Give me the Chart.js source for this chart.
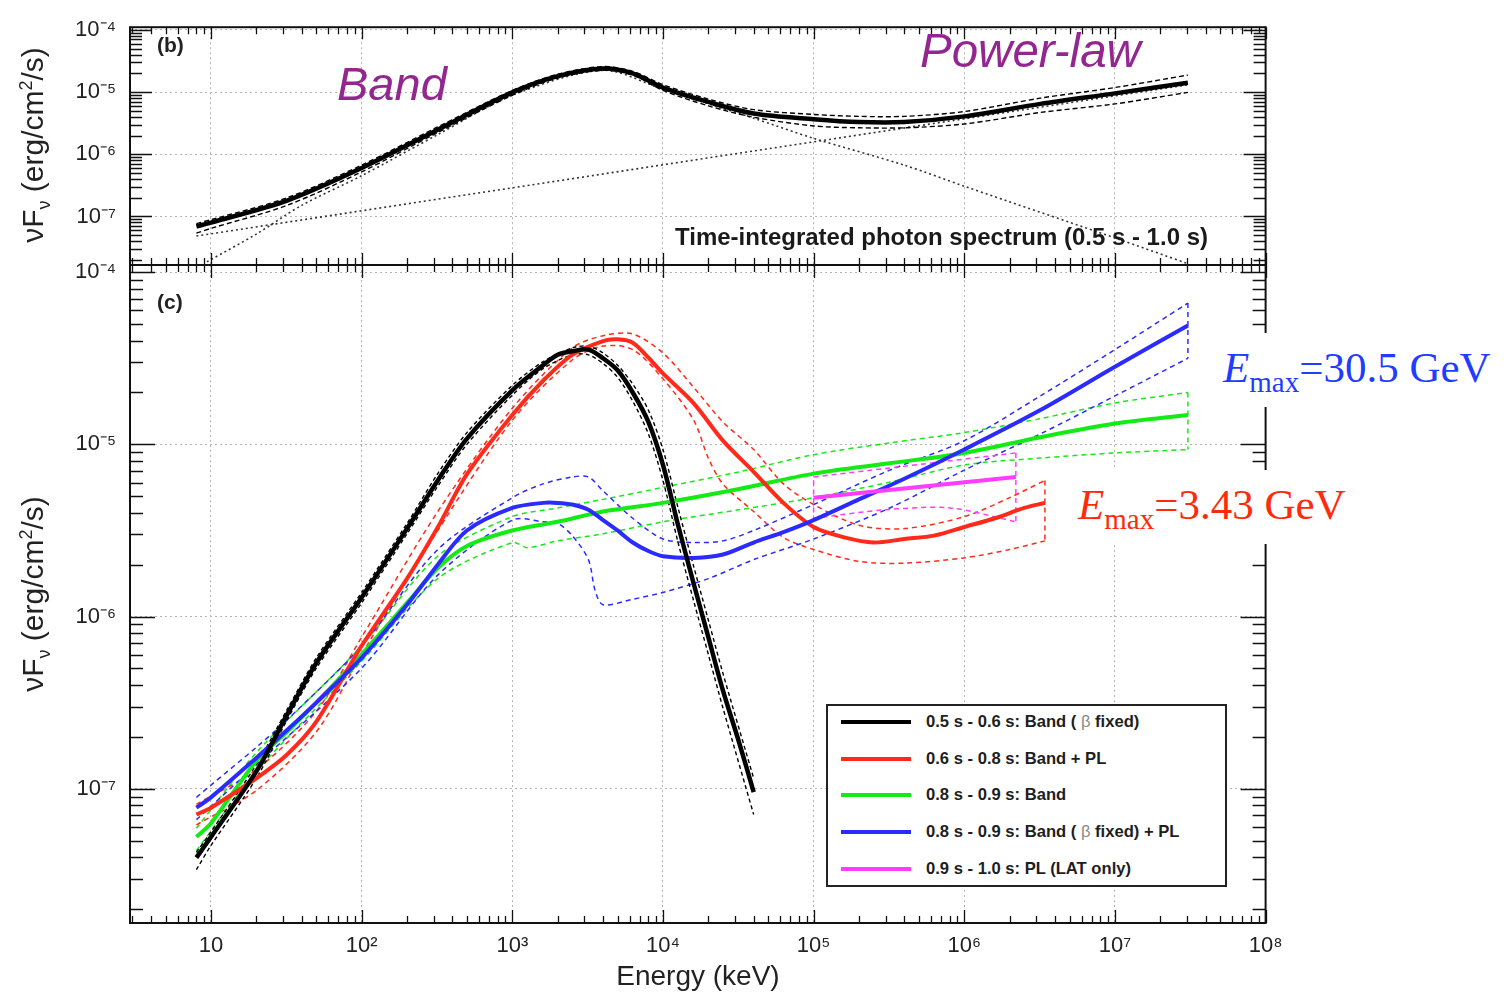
<!DOCTYPE html>
<html>
<head>
<meta charset="utf-8">
<title>Spectral evolution</title>
<script src="https://cdn.jsdelivr.net/npm/chart.js@4.4.1/dist/chart.umd.min.js"></script>
<style>
  html, body { margin: 0; padding: 0; background: #fff; }
  #fig { position: relative; width: 1504px; height: 995px; overflow: hidden;
         font-family: 'Liberation Sans', Arial, Helvetica, sans-serif; color: #222; }
  #fig canvas { position: absolute; left: 0; top: 0; }
  .txt { position: absolute; white-space: nowrap; line-height: 1; }
  .ytitle { position: absolute; white-space: nowrap; line-height: 1; font-size: 30px; color: #222;
            transform: translate(-50%, -50%) rotate(-90deg); }
  .ytitle sub, .ytitle sup { font-size: 0.6em; line-height: 0; }
  .emax { position: absolute; background: #fff; font-family: 'Liberation Serif', 'Times New Roman', serif;
          font-size: 43px; line-height: 70px; padding: 0 6px 0 3px; white-space: nowrap; }
  .emax .sub { font-size: 29px; position: relative; top: 10px; }
  #legend { position: absolute; left: 826px; top: 704px; width: 397px; height: 179px;
            border: 2px solid #222; background: #fff; }
  #legend .row { position: absolute; left: 0; height: 20px; line-height: 20px; font-weight: bold;
                 font-size: 16.6px; white-space: nowrap; }
  #legend .sw { position: absolute; left: 13px; top: 8px; width: 70px; height: 4px; }
  #legend .lab { position: absolute; left: 98px; top: 0; color: #1e1e1e; }
  #legend .beta { font-weight: normal; color: #888; }
</style>
</head>
<body>
<div id="fig">
  <canvas id="topPanel" width="1504" height="995"></canvas>
  <canvas id="bottomPanel" width="1504" height="995"></canvas>

  <div class="txt" style="left:157px; top:34px; font-size:21px; font-weight:bold;">(b)</div>
  <div class="txt" style="left:157px; top:291px; font-size:21px; font-weight:bold;">(c)</div>
  <div class="txt" style="left:337px; top:60px; font-size:47px; font-style:italic; color:#93278f;">Band</div>
  <div class="txt" style="left:920px; top:27px; font-size:47.5px; font-style:italic; color:#93278f;">Power-law</div>
  <div class="txt" style="left:675px; top:225px; font-size:24px; font-weight:bold; color:#1a1a1a;">Time-integrated photon spectrum (0.5 s - 1.0 s)</div>

  <div class="ytitle" style="left:33px; top:145px;">&nu;F<sub>&nu;</sub> (erg/cm<sup>2</sup>/s)</div>
  <div class="ytitle" style="left:33px; top:594px;">&nu;F<sub>&nu;</sub> (erg/cm<sup>2</sup>/s)</div>
  <div class="txt" style="left:698px; top:962px; font-size:28px; transform:translateX(-50%);">Energy (keV)</div>

  <div class="emax" style="left:1220px; top:333px; color:#1f3dff;"><i>E</i><span class="sub">max</span>=30.5 GeV</div>
  <div class="emax" style="left:1075px; top:470px; color:#ff2a0a;"><i>E</i><span class="sub">max</span>=3.43 GeV</div>

  <div id="legend"></div>
</div>

<script>
// axis ranges
const xMin = 2.9, xMax = 1e8;
const yMin = 1.66e-8, yMax = 1.1e-4;

// decade labels
const xTickVals = [10, 1e2, 1e3, 1e4, 1e5, 1e6, 1e7, 1e8];
const xTickText = ['10', '10²', '10³', '10⁴', '10⁵', '10⁶', '10⁷', '10⁸'];
const yTickVals = [1e-7, 1e-6, 1e-5, 1e-4];
const yTickText = ['10⁻⁷', '10⁻⁶', '10⁻⁵', '10⁻⁴'];

// ---- panel (b): time-integrated spectrum ----
const topE = [8, 10, 32, 100, 320, 1000, 2000, 4000, 6300, 1e4, 2e4, 4e4, 1e5, 2e5, 4e5, 1e6, 3.2e6, 1e7, 3.05e7];
const topTotal = [6.92e-8, 7.98e-8, 1.80e-7, 6.00e-7, 2.48e-6, 9.86e-6, 1.80e-5, 2.39e-5, 2.00e-5, 1.18e-5, 6.92e-6, 4.52e-6, 3.66e-6, 3.29e-6, 3.29e-6, 4.06e-6, 6.44e-6, 9.51e-6, 1.41e-5];
const topUpper = [7.69e-8, 8.87e-8, 2.00e-7, 6.68e-7, 2.75e-6, 1.06e-5, 1.93e-5, 2.56e-5, 2.15e-5, 1.31e-5, 7.69e-6, 5.21e-6, 4.36e-6, 4.06e-6, 4.06e-6, 4.85e-6, 7.97e-6, 1.18e-5, 1.87e-5];
const topLower = [5.40e-8, 6.44e-8, 1.51e-7, 5.21e-7, 2.23e-6, 8.87e-6, 1.68e-5, 2.23e-5, 1.87e-5, 1.06e-5, 6.00e-6, 3.93e-6, 2.85e-6, 2.66e-6, 2.66e-6, 3.06e-6, 4.69e-6, 6.44e-6, 9.86e-6];
const bandCompE = [9.4, 20, 40, 100, 320, 1000, 4000, 1e4, 4e4, 1e5, 4e5, 1e6, 1e7, 3.05e7];
const bandCompF = [1.87e-8, 5.21e-8, 1.51e-7, 4.52e-7, 2.07e-6, 8.87e-6, 2.23e-5, 1.10e-5, 3.79e-6, 1.80e-6, 6.68e-7, 3.06e-7, 4.52e-8, 1.74e-8];
const plCompE = [8, 3.05e7];
const plCompF = [4.85e-8, 1.31e-5];

// ---- panel (c): time-resolved spectra ----
const blackE = [8, 10, 20, 32, 50, 100, 200, 320, 500, 1000, 1600, 2000, 2500, 3200, 4000, 5000, 6300, 8000, 1e4, 1.26e4, 1.6e4, 2e4, 2.5e4, 3.2e4, 4e4];
const blackF = [3.98e-8, 5.25e-8, 1.26e-7, 2.69e-7, 5.37e-7, 1.29e-6, 3.24e-6, 6.17e-6, 1.08e-5, 2.06e-5, 2.88e-5, 3.31e-5, 3.47e-5, 3.55e-5, 3.16e-5, 2.69e-5, 2.00e-5, 1.35e-5, 7.59e-6, 3.39e-6, 1.55e-6, 7.59e-7, 3.72e-7, 1.86e-7, 9.55e-8];
const blackErrE = [8, 10, 20, 32, 50, 100, 200, 320, 500, 1000, 1600, 2500, 3200, 4000, 5000, 6300, 8000, 1e4, 1.26e4, 1.6e4, 2e4, 2.5e4, 4e4];
const blackHi = [4.27e-8, 5.62e-8, 1.38e-7, 2.88e-7, 5.75e-7, 1.38e-6, 3.47e-6, 6.76e-6, 1.17e-5, 2.20e-5, 3.02e-5, 3.63e-5, 3.72e-5, 3.39e-5, 2.88e-5, 2.24e-5, 1.58e-5, 9.33e-6, 4.27e-6, 1.95e-6, 9.55e-7, 4.68e-7, 1.15e-7];
const blackLo = [3.39e-8, 4.68e-8, 1.15e-7, 2.51e-7, 5.01e-7, 1.20e-6, 3.02e-6, 5.71e-6, 1.00e-5, 1.93e-5, 2.75e-5, 3.31e-5, 3.31e-5, 2.95e-5, 2.45e-5, 1.78e-5, 1.15e-5, 6.17e-6, 2.69e-6, 1.23e-6, 6.03e-7, 2.95e-7, 7.08e-8];

const redE = [8, 10, 20, 32, 50, 100, 200, 320, 500, 1000, 1600, 2500, 4000, 5000, 6300, 8000, 1e4, 1.6e4, 2.5e4, 4e4, 6.3e4, 1e5, 1.6e5, 2.5e5, 4e5, 6.3e5, 1e6, 1.6e6, 2.5e6, 3.43e6];
const redF = [7.08e-8, 7.76e-8, 1.15e-7, 1.58e-7, 2.45e-7, 6.76e-7, 1.66e-6, 3.30e-6, 6.71e-6, 1.48e-5, 2.34e-5, 3.31e-5, 3.98e-5, 4.07e-5, 3.89e-5, 3.19e-5, 2.58e-5, 1.73e-5, 1.05e-5, 6.92e-6, 4.57e-6, 3.31e-6, 2.88e-6, 2.69e-6, 2.82e-6, 2.95e-6, 3.31e-6, 3.72e-6, 4.27e-6, 4.57e-6];
const redHiE = [8, 20, 50, 100, 320, 1000, 2500, 4000, 6300, 1e4, 1.6e4, 2.5e4, 4e4, 6.3e4, 1e5, 2e5, 4e5, 1e6, 2e6, 3.43e6];
const redHi = [8.13e-8, 1.29e-7, 2.82e-7, 7.59e-7, 4.07e-6, 1.62e-5, 3.63e-5, 4.27e-5, 4.37e-5, 3.39e-5, 2.14e-5, 1.35e-5, 9.33e-6, 5.89e-6, 4.47e-6, 3.39e-6, 3.24e-6, 3.80e-6, 4.90e-6, 6.17e-6];
const redLoE = [8, 20, 50, 100, 320, 1000, 2500, 4000, 6300, 1e4, 1.6e4, 2e4, 2.5e4, 4e4, 6.3e4, 1e5, 2e5, 4e5, 1e6, 2e6, 3.43e6];
const redLo = [6.17e-8, 9.77e-8, 2.14e-7, 6.03e-7, 3.16e-6, 1.38e-5, 3.09e-5, 3.72e-5, 3.55e-5, 2.40e-5, 1.38e-5, 8.32e-6, 5.89e-6, 4.07e-6, 2.88e-6, 2.45e-6, 2.09e-6, 2.04e-6, 2.19e-6, 2.45e-6, 2.75e-6];
const redCapE = [3.43e6, 3.43e6];
const redCapF = [6.17e-6, 2.75e-6];

const greenE = [8, 10, 20, 32, 50, 100, 200, 320, 500, 1000, 2000, 4000, 1e4, 3.2e4, 1e5, 3.2e5, 1e6, 3.2e6, 1e7, 3.05e7];
const greenF = [5.25e-8, 6.31e-8, 1.45e-7, 2.14e-7, 3.16e-7, 6.03e-7, 1.20e-6, 1.91e-6, 2.57e-6, 3.16e-6, 3.55e-6, 4.07e-6, 4.57e-6, 5.50e-6, 6.76e-6, 7.76e-6, 8.91e-6, 1.10e-5, 1.32e-5, 1.48e-5];
const greenHiE = [8, 20, 100, 320, 1000, 2000, 4000, 1e4, 3.2e4, 1e5, 3.2e5, 1e6, 3.2e6, 1e7, 3.05e7];
const greenHi = [5.89e-8, 1.62e-7, 6.76e-7, 2.24e-6, 3.80e-6, 4.27e-6, 4.79e-6, 5.62e-6, 6.92e-6, 8.71e-6, 1.02e-5, 1.17e-5, 1.41e-5, 1.74e-5, 2.00e-5];
const greenLoE = [8, 20, 100, 320, 1000, 1260, 2000, 4000, 1e4, 3.2e4, 1e5, 3.2e5, 1e6, 3.2e6, 1e7, 3.05e7];
const greenLo = [4.37e-8, 1.26e-7, 5.50e-7, 1.66e-6, 2.69e-6, 2.51e-6, 2.75e-6, 3.02e-6, 3.55e-6, 4.17e-6, 4.90e-6, 6.03e-6, 7.59e-6, 8.32e-6, 8.91e-6, 9.33e-6];
const greenCapE = [3.05e7, 3.05e7];
const greenCapF = [2.00e-5, 9.33e-6];

const blueE = [8, 10, 20, 32, 50, 100, 200, 320, 500, 1000, 1600, 2000, 2500, 3200, 4000, 5000, 6300, 8000, 1e4, 1.6e4, 2.5e4, 4e4, 6.3e4, 1e5, 2e5, 4e5, 1e6, 3.2e6, 1e7, 3.05e7];
const blueF = [7.76e-8, 8.91e-8, 1.51e-7, 2.19e-7, 3.16e-7, 5.75e-7, 1.17e-6, 2.00e-6, 3.16e-6, 4.27e-6, 4.57e-6, 4.57e-6, 4.47e-6, 4.17e-6, 3.63e-6, 3.16e-6, 2.69e-6, 2.40e-6, 2.24e-6, 2.19e-6, 2.29e-6, 2.69e-6, 3.09e-6, 3.63e-6, 4.79e-6, 6.31e-6, 9.33e-6, 1.58e-5, 2.82e-5, 4.90e-5];
const blueHiE = [8, 10, 20, 32, 100, 320, 1000, 1600, 2500, 3200, 4000, 6300, 1e4, 1.6e4, 2.5e4, 4e4, 1e5, 3.2e5, 1e6, 3.2e6, 1e7, 3.05e7];
const blueHi = [8.91e-8, 1.05e-7, 1.74e-7, 2.51e-7, 6.76e-7, 2.45e-6, 4.90e-6, 5.89e-6, 6.46e-6, 6.46e-6, 5.37e-6, 3.72e-6, 2.82e-6, 2.69e-6, 2.75e-6, 3.16e-6, 4.47e-6, 7.08e-6, 1.05e-5, 1.91e-5, 3.55e-5, 6.61e-5];
const blueLoE = [8, 20, 100, 320, 1000, 1600, 2000, 2500, 3200, 3550, 4000, 6300, 1e4, 2e4, 4e4, 1e5, 3.2e5, 1e6, 3.2e6, 1e7, 3.05e7];
const blueLo = [6.61e-8, 1.38e-7, 5.01e-7, 1.74e-6, 3.63e-6, 3.55e-6, 3.47e-6, 2.95e-6, 2.14e-6, 1.41e-6, 1.17e-6, 1.26e-6, 1.38e-6, 1.66e-6, 2.14e-6, 2.82e-6, 4.27e-6, 7.08e-6, 1.15e-5, 1.91e-5, 3.16e-5];
const blueCapE = [3.05e7, 3.05e7];
const blueCapF = [6.61e-5, 3.16e-5];

const magE = [1e5, 2.2e6];
const magF = [4.90e-6, 6.46e-6];
const magHiE = [1e5, 2.2e6];
const magHi = [6.46e-6, 8.91e-6];
const magLoE = [1e5, 3e5, 8e5, 2.2e6];
const magLo = [3.72e-6, 4.17e-6, 4.27e-6, 3.55e-6];
const magCapLeftE = [1e5, 1e5];
const magCapLeftF = [3.16e-6, 6.46e-6];
const magCapRightE = [2.2e6, 2.2e6];
const magCapRightF = [8.91e-6, 3.55e-6];

// legend
const seriesLabels = ['0.5 s - 0.6 s: Band ( β fixed)', '0.6 s - 0.8 s: Band + PL', '0.8 s - 0.9 s: Band',
                      '0.8 s - 0.9 s: Band ( β fixed) + PL', '0.9 s - 1.0 s: PL (LAT only)'];
const seriesColors = ['#000000', '#ff2a1a', '#14ea14', '#2b2bff', '#ff3cff'];
const [cBlack, cRed, cGreen, cBlue, cMag] = seriesColors;

Chart.defaults.font.family = "'Liberation Sans', Arial, Helvetica, sans-serif";
Chart.defaults.color = '#222';

// every 1..9 x 10^n between min and max, decades flagged major
function logTicks(min, max) {
  const out = [];
  for (let e = Math.floor(Math.log10(min)); e <= Math.ceil(Math.log10(max)); e++) {
    for (let m = 1; m < 10; m++) {
      const v = m * Math.pow(10, e);
      if (v >= min * 0.9999 && v <= max * 1.0001) out.push({ value: v, major: m === 1 });
    }
  }
  return out;
}

function tickText(vals, texts) {
  return v => {
    const i = vals.findIndex(t => Math.abs(t - v) / t < 1e-6);
    return i < 0 ? '' : texts[i];
  };
}

// frame and inward tick marks, ROOT style
const framePlugin = {
  id: 'frame',
  afterDatasetsDraw(chart, args, o) {
    const { ctx, chartArea: a, scales: { x, y } } = chart;
    ctx.save();
    ctx.strokeStyle = '#111';
    ctx.lineWidth = 1.3;
    ctx.beginPath();
    x.ticks.forEach(t => {
      const px = Math.round(x.getPixelForValue(t.value)) + 0.5;
      const len = t.major ? o.xMajor : o.xMinor;
      ctx.moveTo(px, a.bottom); ctx.lineTo(px, a.bottom - len);
      ctx.moveTo(px, a.top); ctx.lineTo(px, a.top + len);
    });
    y.ticks.forEach(t => {
      const py = Math.round(y.getPixelForValue(t.value)) + 0.5;
      const len = t.major ? o.yMajor : o.yMinor;
      ctx.moveTo(a.left, py); ctx.lineTo(a.left + len, py);
      ctx.moveTo(a.right, py); ctx.lineTo(a.right - len, py);
    });
    ctx.stroke();
    ctx.lineWidth = 2;
    ctx.strokeRect(a.left, a.top, a.right - a.left, a.bottom - a.top);
    ctx.restore();
  }
};

function line(es, fs, color, width, dash, smooth) {
  return {
    data: es.map((e, i) => ({ x: e, y: fs[i] })),
    borderColor: color,
    borderWidth: width,
    borderDash: dash || [],
    borderJoinStyle: 'round',
    pointRadius: 0,
    fill: false,
    clip: 0,
    tension: smooth ? 0.3 : 0
  };
}

const gridOpts = {
  color: c => (c.tick && c.tick.major) ? '#b4b4b4' : 'rgba(0,0,0,0)',
  lineWidth: 1,
  drawTicks: false
};

function xAxis(withLabels) {
  return {
    type: 'logarithmic', min: xMin, max: xMax, bounds: 'data',
    afterBuildTicks: a => { a.ticks = logTicks(xMin, xMax); },
    afterFit: a => { a.height = withLabels ? 72 : 0; },
    grid: gridOpts,
    border: { display: false, dash: [2, 3] },
    ticks: { display: withLabels, autoSkip: false, maxRotation: 0, minRotation: 0, padding: 10,
             font: { size: 22 }, color: '#222', callback: tickText(xTickVals, xTickText) }
  };
}

function yAxis() {
  return {
    type: 'logarithmic', min: yMin, max: yMax, bounds: 'data',
    afterBuildTicks: a => { a.ticks = logTicks(yMin, yMax); },
    afterFit: a => { a.width = 130; },
    grid: gridOpts,
    border: { display: false, dash: [2, 3] },
    ticks: { autoSkip: false, padding: 14, font: { size: 22 }, color: '#222',
             callback: tickText(yTickVals, yTickText) }
  };
}

const plotRight = 1265.6;
const dashed = [5, 4];

new Chart(document.getElementById('topPanel'), {
  type: 'line',
  data: {
    datasets: [
      line(topE, topTotal, cBlack, 4.5, null, true),
      line(topE, topUpper, cBlack, 1.4, [5, 3], true),
      line(topE, topLower, cBlack, 1.4, [5, 3], true),
      line(bandCompE, bandCompF, '#333', 1.6, [2, 3], true),
      line(plCompE, plCompF, '#333', 1.6, [2, 3], false)
    ]
  },
  options: {
    responsive: false, animation: false, devicePixelRatio: 1,
    layout: { padding: { left: 0, right: 1504 - plotRight, top: 17, bottom: 995 - 265 } },
    plugins: { legend: { display: false }, tooltip: { enabled: false },
               frame: { xMajor: 12, xMinor: 7, yMajor: 22, yMinor: 12 } },
    scales: { x: xAxis(false), y: yAxis() }
  },
  plugins: [framePlugin]
});

new Chart(document.getElementById('bottomPanel'), {
  type: 'line',
  data: {
    datasets: [
      line(blackE, blackF, cBlack, 4.5, null, true),
      line(magE, magF, cMag, 4, null, false),
      line(blueE, blueF, cBlue, 4, null, true),
      line(redE, redF, cRed, 4, null, true),
      line(greenE, greenF, cGreen, 4, null, true),
      line(blackErrE, blackHi, cBlack, 1.4, [4, 3], true),
      line(blackErrE, blackLo, cBlack, 1.4, [4, 3], true),
      line(magHiE, magHi, cMag, 1.5, dashed, false),
      line(magLoE, magLo, cMag, 1.5, dashed, true),
      line(magCapLeftE, magCapLeftF, cMag, 1.5, dashed, false),
      line(magCapRightE, magCapRightF, cMag, 1.5, dashed, false),
      line(blueHiE, blueHi, cBlue, 1.5, dashed, true),
      line(blueLoE, blueLo, cBlue, 1.5, dashed, true),
      line(blueCapE, blueCapF, cBlue, 1.5, dashed, false),
      line(redHiE, redHi, cRed, 1.5, dashed, true),
      line(redLoE, redLo, cRed, 1.5, dashed, true),
      line(redCapE, redCapF, cRed, 1.5, dashed, false),
      line(greenHiE, greenHi, cGreen, 1.5, dashed, true),
      line(greenLoE, greenLo, cGreen, 1.5, dashed, true),
      line(greenCapE, greenCapF, cGreen, 1.5, dashed, false)
    ]
  },
  options: {
    responsive: false, animation: false, devicePixelRatio: 1,
    layout: { padding: { left: 0, right: 1504 - plotRight, top: 265, bottom: 0 } },
    plugins: { legend: { display: false }, tooltip: { enabled: false },
               frame: { xMajor: 13, xMinor: 7, yMajor: 25, yMinor: 13 } },
    scales: { x: xAxis(true), y: yAxis() }
  },
  plugins: [framePlugin]
});

// legend box inside panel (c)
const legend = document.getElementById('legend');
const rowCenters = [16, 53, 89, 126, 163];
seriesLabels.forEach((lab, i) => {
  const row = document.createElement('div');
  row.className = 'row';
  row.style.top = (rowCenters[i] - 10) + 'px';
  row.innerHTML = '<span class="sw" style="background:' + seriesColors[i] + '"></span>' +
                  '<span class="lab">' + lab.replace('β', '<span class="beta">β</span>') + '</span>';
  legend.appendChild(row);
});
</script>
</body>
</html>
